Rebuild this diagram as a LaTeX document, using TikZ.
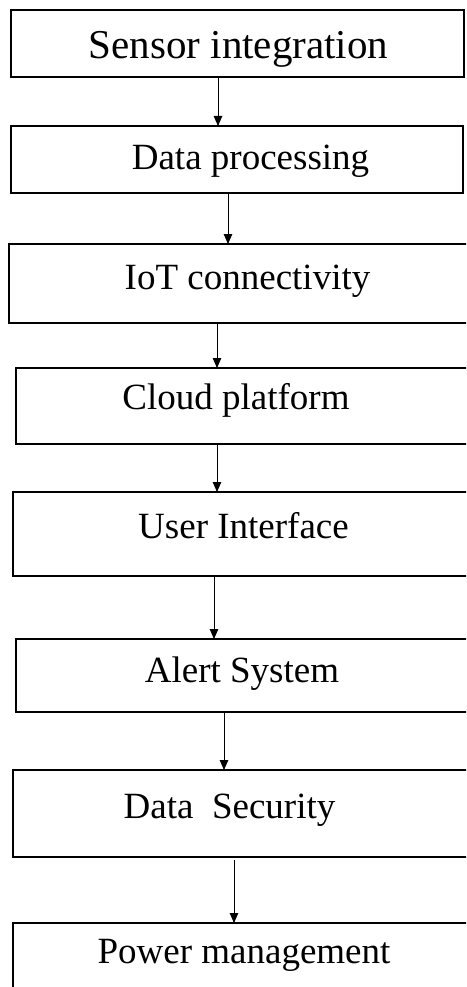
\documentclass[tikz,border=0pt]{standalone}
\usepackage{fontspec}
\setmainfont{Liberation Serif}
\usetikzlibrary{arrows.meta}

\begin{document}
\begin{tikzpicture}[x=1pt, y=-1pt,
      stage/.style={draw, line width=1.6pt, anchor=north west, inner sep=0pt, outer sep=0pt},
      lbl/.style={anchor=base, inner sep=0pt, font=\fontsize{37}{41}\selectfont},
      flow/.style={-{Triangle[length=10pt, width=8.5pt]}, line width=0.9pt}
    ]
      \useasboundingbox (0,0) rectangle (466,987);
      \clip (0,0) rectangle (466,987);
      \fill[white] (0,0) rectangle (466,987);

      % boxes
      \node[stage, minimum width=453, minimum height=67] (sensor) at (11,10) {};
      \node[stage, minimum width=452, minimum height=67] (proc) at (11,126) {};
      \node[stage, minimum width=471, minimum height=79] (iot) at (9,244) {};
      \node[stage, minimum width=464, minimum height=76] (cloud) at (16,368) {};
      \node[stage, minimum width=467, minimum height=84] (ui) at (13,492) {};
      \node[stage, minimum width=464, minimum height=73] (alert) at (16,639) {};
      \node[stage, minimum width=467, minimum height=87] (sec) at (13,770) {};
      \node[stage, minimum width=467, minimum height=90] (power) at (13,923) {};

      % labels
      \node[lbl, font=\fontsize{41}{45}\selectfont] (sensor-t) at (238.5,58.5) {Sensor integration};
      \node[lbl] (proc-t) at (250.5,170) {Data processing};
      \node[lbl] (iot-t) at (247.5,289) {IoT connectivity};
      \node[lbl] (cloud-t) at (236,409) {Cloud platform};
      \node[lbl] (ui-t) at (243.5,538.5) {User Interface};
      \node[lbl] (alert-t) at (242,682) {Alert System};
      \node[lbl] (sec-t) at (229.5,818) {Data\ \ Security};
      \node[lbl] (power-t) at (244,963) {Power management};

      % arrow columns
      \coordinate (c1) at (218,0);
      \coordinate (c2) at (228,0);
      \coordinate (c3) at (217,0);
      \coordinate (c4) at (217,0);
      \coordinate (c5) at (214,0);
      \coordinate (c6) at (224,0);
      \coordinate (c7) at (234,0);

      \draw[flow] (sensor.south -| c1) -- (proc.north -| c1);
      \draw[flow] (proc.south -| c2) -- (iot.north -| c2);
      \draw[flow] (iot.south -| c3) -- (cloud.north -| c3);
      \draw[flow] (cloud.south -| c4) -- (ui.north -| c4);
      \draw[flow] (ui.south -| c5) -- (alert.north -| c5);
      \draw[flow] (alert.south -| c6) -- (sec.north -| c6);
      \draw[flow, shorten <=3pt] (sec.south -| c7) -- (power.north -| c7);
    \end{tikzpicture}
\end{document}
